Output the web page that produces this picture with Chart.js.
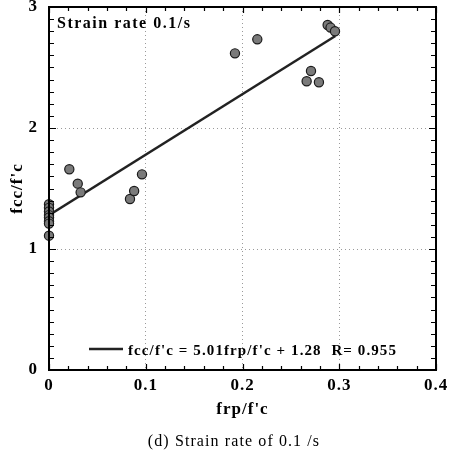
<!DOCTYPE html>
<html>
<head>
<meta charset="utf-8">
<script src="https://cdn.jsdelivr.net/npm/chart.js@4"></script>
<style>
  html, body { margin: 0; padding: 0; background: #fff; }
  #wrap { width: 450px; height: 464px; position: relative; }
</style>
</head>
<body>
<div id="wrap"><canvas id="myChart"></canvas></div>
<script>
// test points: frp/f'c against fcc/f'c
const frpRatio = [0, 0, 0, 0, 0, 0, 0, 0, 0.021, 0.0297, 0.0327, 0.0837, 0.088, 0.0961, 0.1922, 0.2153, 0.2663, 0.2708, 0.279, 0.288, 0.291, 0.2956];
const fccRatio = [1.37, 1.34, 1.31, 1.28, 1.26, 1.23, 1.21, 1.11, 1.659, 1.54, 1.468, 1.413, 1.479, 1.617, 2.617, 2.733, 2.386, 2.471, 2.378, 2.851, 2.83, 2.80];

// regression line fcc/f'c = 5.01 frp/f'c + 1.28
const fitX = [0, 0.296];
const fitY = [1.28, 2.76];

const xTicks = [0, 0.1, 0.2, 0.3, 0.4];
const yTicks = [0, 1, 2, 3];
const xTickLabels = ['0', '0.1', '0.2', '0.3', '0.4'];
const yTickLabels = ['0', '1', '2', '3'];
const xMinorStep = 0.02;
const yMinorStep = 0.1;

const serif = "'Liberation Serif', 'Times New Roman', serif";

//draws the box, inward ticks, label and legend
const decor = {
  id: 'decor',
  beforeDraw(chart) {
    // the scanned figure has loosely spaced type
    chart.ctx.letterSpacing = '1px';
  },
  afterDraw(chart) {
    const ctx = chart.ctx;
    const a = chart.chartArea;
    const sx = chart.scales.x, sy = chart.scales.y;
    ctx.save();
    ctx.strokeStyle = '#000';
    ctx.lineWidth = 2;
    ctx.strokeRect(a.left, a.top, a.right - a.left, a.bottom - a.top);

    ctx.lineWidth = 1.2;
    ctx.beginPath();
    for (let i = 0; i <= Math.round(0.4 / xMinorStep); i++) {
      const v = i * xMinorStep;
      const px = Math.round(sx.getPixelForValue(v)) + 0.5;
      const len = (i % 5 === 0) ? 6 : 4;
      ctx.moveTo(px, a.bottom); ctx.lineTo(px, a.bottom - len);
      ctx.moveTo(px, a.top); ctx.lineTo(px, a.top + len);
    }
    for (let i = 0; i <= Math.round(3 / yMinorStep); i++) {
      const v = i * yMinorStep;
      const py = Math.round(sy.getPixelForValue(v)) + 0.5;
      const len = (i % 10 === 0) ? 7 : 5;
      ctx.moveTo(a.left, py); ctx.lineTo(a.left + len, py);
      ctx.moveTo(a.right, py); ctx.lineTo(a.right - len, py);
    }
    ctx.stroke();

    ctx.fillStyle = '#000';
    ctx.textBaseline = 'middle';
    ctx.textAlign = 'left';
    ctx.letterSpacing = '1.5px';
    ctx.font = 'bold 16px ' + serif;
    ctx.fillText('Strain rate 0.1/s', a.left + 8, a.top + 17);

    // legend
    ctx.lineWidth = 2.5;
    ctx.strokeStyle = '#222';
    ctx.beginPath();
    ctx.moveTo(a.left + 40, a.bottom - 21);
    ctx.lineTo(a.left + 74, a.bottom - 21);
    ctx.stroke();
    ctx.letterSpacing = '1.1px';
    ctx.font = 'bold 15px ' + serif;
    ctx.fillText("fcc/f'c = 5.01frp/f'c + 1.28  R= 0.955", a.left + 79, a.bottom - 19);

    // caption
    ctx.letterSpacing = '1.1px';
    ctx.font = '16px ' + serif;
    ctx.textAlign = 'center';
    ctx.fillText('(d) Strain rate of 0.1 /s', 234, 442);
    ctx.restore();
  }
};

const edgeClear = (ticks) => (c) => (c.tick && (c.tick.value === ticks[0] || c.tick.value === ticks[ticks.length - 1])) ? 'rgba(0,0,0,0)' : '#9a9a9a';

new Chart(document.getElementById('myChart').getContext('2d'), {
  type: 'scatter',
  data: {
    datasets: [{
      label: 'test',
      data: frpRatio.map((x, i) => ({ x: x, y: fccRatio[i] })),
      backgroundColor: '#7a7a7a',
      borderColor: '#1a1a1a',
      borderWidth: 1.2,
      pointRadius: 4.6,
      clip: false,
      order: 0
    }, {
      type: 'line',
      label: 'fit',
      data: fitX.map((x, i) => ({ x: x, y: fitY[i] })),
      borderColor: '#222',
      borderWidth: 2.5,
      pointRadius: 0,
      fill: false,
      order: 1
    }]
  },
  options: {
    responsive: true,
    maintainAspectRatio: false,
    animation: false,
    layout: { padding: { top: 7, right: 14, bottom: 0, left: 0 } },
    plugins: {
      legend: { display: false },
      tooltip: { enabled: false }
    },
    scales: {
      x: {
        type: 'linear',
        min: 0, max: 0.4,
        afterBuildTicks: (s) => { s.ticks = xTicks.map(v => ({ value: v })); },
        afterFit: (s) => { s.height = 94; s.paddingLeft = 0; s.paddingRight = 0; },
        ticks: {
          color: '#000',
          padding: 7,
          maxRotation: 0,
          font: { family: serif, size: 17, weight: 'bold', lineHeight: 1 },
          callback: (v) => xTickLabels[xTicks.indexOf(v)]
        },
        grid: { drawTicks: false, color: edgeClear(xTicks), lineWidth: 1 },
        border: { display: false, dash: [1, 3] },
        title: {
          display: true,
          text: "frp/f'c",
          color: '#000',
          font: { family: serif, size: 17, weight: 'bold', lineHeight: 1.2 },
          padding: { top: 0, bottom: 44 }
        }
      },
      y: {
        type: 'linear',
        min: 0, max: 3,
        afterBuildTicks: (s) => { s.ticks = yTicks.map(v => ({ value: v })); },
        afterFit: (s) => { s.width = 49; s.paddingTop = 0; s.paddingBottom = 0; },
        ticks: {
          color: '#000',
          padding: 11,
          font: { family: serif, size: 17, weight: 'bold', lineHeight: 1 },
          callback: (v) => yTickLabels[yTicks.indexOf(v)]
        },
        grid: { drawTicks: false, color: edgeClear(yTicks), lineWidth: 1 },
        border: { display: false, dash: [1, 3] },
        title: {
          display: true,
          text: "fcc/f'c",
          color: '#000',
          font: { family: serif, size: 17, weight: 'bold', lineHeight: 1.2 },
          padding: { top: 7, bottom: 0 }
        }
      }
    }
  },
  plugins: [decor]
});
</script>
</body>
</html>
